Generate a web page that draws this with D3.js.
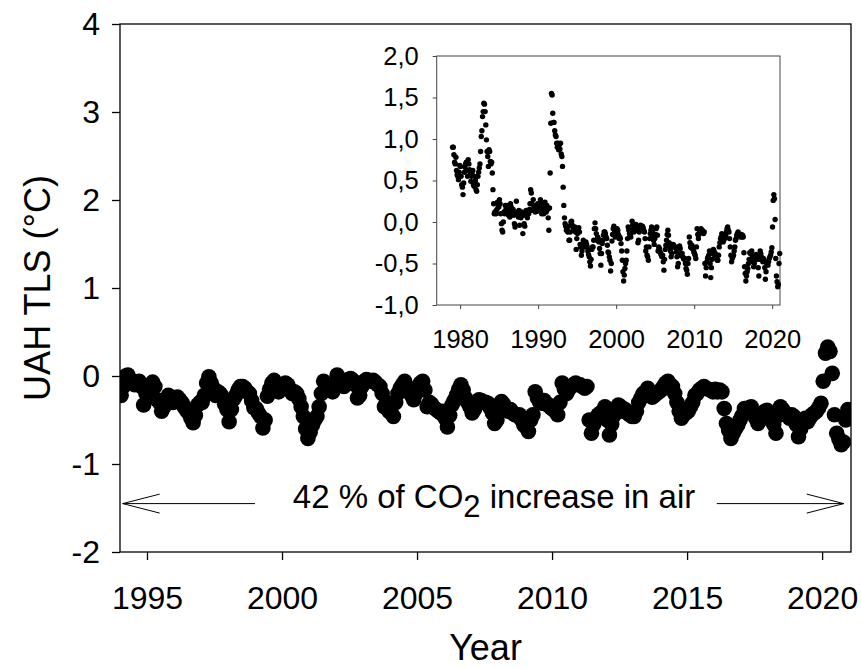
<!DOCTYPE html>
<html>
<head>
<meta charset="utf-8">
<script src="https://cdn.jsdelivr.net/npm/d3@7"></script>
<style>
  body { margin: 0; background: #fff; }
  text { font-family: "Liberation Sans", Arial, sans-serif; fill: #000; }
</style>
</head>
<body>
<div id="chart"></div>
<script>
// Monthly UAH TLS anomalies (°C), one row per year, Jan..Dec
var earlyStart = 1979;
var tlsEarly = [
  0.90, 0.90, 0.81, 0.72, 0.70, 0.78, 0.62, 0.57, 0.55, 0.51, 0.60, 0.68, // 1979
  0.67, 0.55, 0.45, 0.42, 0.33, 0.47, 0.60, 0.66, 0.70, 0.72, 0.62, 0.55, // 1980
  0.75, 0.70, 0.63, 0.60, 0.49, 0.55, 0.58, 0.62, 0.45, 0.43, 0.55, 0.50, // 1981
  0.39, 0.37, 0.45, 0.55, 0.60, 0.65, 0.70, 0.85, 1.03, 1.10, 1.27, 1.33, // 1982
  1.43, 1.42, 1.33, 1.17, 0.99, 0.85, 0.79, 0.67, 0.87, 0.85, 0.73, 0.70, // 1983
  0.72, 0.59, 0.39, 0.22, 0.10, 0.12, 0.12, 0.10, 0.15, 0.24, 0.20, 0.18, // 1984
  0.27, 0.22, 0.10, -0.02, -0.10, -0.12, 0.00, 0.12, 0.10, 0.20, 0.15, 0.12, // 1985
  0.20, 0.14, 0.08, 0.12, 0.06, 0.22, 0.18, 0.12, 0.10, 0.15, 0.08, -0.02, // 1986
  -0.06, 0.10, 0.25, 0.10, 0.12, 0.06, 0.14, -0.04, 0.08, 0.05, 0.12, 0.10, // 1987
  -0.14, 0.08, -0.02, -0.05, 0.10, 0.14, 0.08, 0.05, 0.12, 0.10, 0.15, 0.22, // 1988
  0.39, 0.35, 0.22, 0.14, 0.27, 0.18, 0.15, 0.12, 0.20, 0.18, 0.13, 0.22, // 1989
  0.22, 0.15, 0.20, 0.27, 0.17, 0.10, 0.22, 0.15, 0.10, 0.18, 0.24, 0.15, // 1990
  0.12, 0.20, 0.15, 0.05, -0.10, 0.17, 0.59, 1.19, 1.55, 1.53, 1.31, 1.20, // 1991
  1.20, 1.10, 1.05, 1.03, 0.95, 0.90, 0.95, 0.87, 0.93, 0.88, 0.95, 0.82, // 1992
  0.79, 0.67, 0.42, 0.20, 0.05, -0.02, -0.05, -0.10, -0.08, -0.12, -0.05, -0.22 // 1993
];

var recentStart = 1994;
var tlsRecent = [
  -0.22, -0.12, 0.00, 0.01, -0.04, -0.06, -0.10, -0.08, -0.06, -0.12, -0.33, -0.20, // 1994
  -0.14, -0.10, -0.07, -0.12, -0.27, -0.30, -0.40, -0.35, -0.28, -0.22, -0.25, -0.30, // 1995
  -0.28, -0.24, -0.27, -0.30, -0.35, -0.39, -0.42, -0.48, -0.53, -0.45, -0.33, -0.30, // 1996
  -0.30, -0.22, -0.08, -0.01, -0.08, -0.14, -0.22, -0.18, -0.20, -0.24, -0.32, -0.38, // 1997
  -0.52, -0.38, -0.26, -0.22, -0.16, -0.12, -0.12, -0.14, -0.18, -0.20, -0.28, -0.36, // 1998
  -0.37, -0.42, -0.46, -0.59, -0.50, -0.23, -0.15, -0.08, -0.05, -0.10, -0.18, -0.14, // 1999
  -0.12, -0.08, -0.10, -0.15, -0.20, -0.18, -0.20, -0.26, -0.35, -0.46, -0.60, -0.71, // 2000
  -0.64, -0.56, -0.50, -0.46, -0.35, -0.20, -0.06, -0.10, -0.14, -0.16, -0.18, -0.12, // 2001
  0.01, -0.04, -0.08, -0.12, -0.06, -0.04, -0.03, -0.05, -0.10, -0.25, -0.22, -0.12, // 2002
  -0.06, -0.04, -0.05, -0.06, -0.05, -0.07, -0.10, -0.12, -0.20, -0.35, -0.30, -0.40, // 2003
  -0.42, -0.46, -0.30, -0.20, -0.14, -0.10, -0.06, -0.12, -0.18, -0.22, -0.27, -0.20, // 2004
  -0.15, -0.08, -0.06, -0.16, -0.35, -0.30, -0.32, -0.36, -0.38, -0.40, -0.42, -0.40, // 2005
  -0.48, -0.58, -0.45, -0.33, -0.28, -0.22, -0.15, -0.10, -0.16, -0.25, -0.30, -0.35, // 2006
  -0.42, -0.38, -0.30, -0.27, -0.28, -0.30, -0.30, -0.31, -0.36, -0.42, -0.54, -0.50, // 2007
  -0.40, -0.29, -0.32, -0.38, -0.40, -0.38, -0.42, -0.44, -0.45, -0.44, -0.50, -0.56, // 2008
  -0.58, -0.63, -0.50, -0.44, -0.18, -0.25, -0.30, -0.31, -0.28, -0.32, -0.33, -0.36, // 2009
  -0.38, -0.40, -0.44, -0.30, -0.08, -0.15, -0.20, -0.15, -0.12, -0.10, -0.08, -0.10, // 2010
  -0.10, -0.12, -0.14, -0.12, -0.50, -0.65, -0.55, -0.48, -0.44, -0.42, -0.40, -0.35, // 2011
  -0.50, -0.67, -0.55, -0.45, -0.38, -0.33, -0.35, -0.40, -0.38, -0.42, -0.44, -0.46, // 2012
  -0.46, -0.40, -0.30, -0.25, -0.20, -0.18, -0.14, -0.20, -0.24, -0.22, -0.20, -0.18, // 2013
  -0.16, -0.12, -0.08, -0.06, -0.10, -0.12, -0.20, -0.30, -0.40, -0.48, -0.44, -0.42, // 2014
  -0.40, -0.35, -0.30, -0.22, -0.20, -0.16, -0.14, -0.12, -0.14, -0.15, -0.16, -0.18, // 2015
  -0.15, -0.18, -0.16, -0.18, -0.37, -0.54, -0.62, -0.71, -0.65, -0.60, -0.56, -0.50, // 2016
  -0.45, -0.37, -0.38, -0.36, -0.35, -0.42, -0.48, -0.54, -0.50, -0.45, -0.40, -0.39, // 2017
  -0.42, -0.45, -0.55, -0.65, -0.45, -0.35, -0.38, -0.42, -0.45, -0.48, -0.44, -0.46, // 2018
  -0.55, -0.69, -0.60, -0.50, -0.48, -0.52, -0.48, -0.44, -0.42, -0.40, -0.36, -0.31, // 2019
  -0.06, 0.26, 0.33, 0.28, 0.03, -0.44, -0.65, -0.72, -0.78, -0.75, -0.50, -0.38  // 2020
];

var mainXTicks = [1995, 2000, 2005, 2010, 2015, 2020];
var mainYTicks = [-2, -1, 0, 1, 2, 3, 4];
var insetXTicks = [1980, 1990, 2000, 2010, 2020];
var insetYTicks = [-1.0, -0.5, 0.0, 0.5, 1.0, 1.5, 2.0];
var noteText = "42 % of CO";

// turn a monthly list into {t, v} points
function toPoints(list, start) {
  return list.map(function(v, i) {
    return { t: start + Math.floor(i / 12) + (i % 12 + 0.5) / 12, v: v };
  });
}
var allPoints = toPoints(tlsEarly, earlyStart).concat(toPoints(tlsRecent, recentStart));
var recentPoints = toPoints(tlsRecent, recentStart);

var svgWidth = 861;
var svgHeight = 668;
var margin = { top: 24, right: 10, bottom: 116, left: 120 };
var width = 731;
var height = 528;

var locale = d3.formatLocale({ decimal: ",", thousands: ".", grouping: [3], currency: ["", ""], minus: "-" });

var svg = d3.select("#chart")
  .append("svg")
  .attr("width", svgWidth)
  .attr("height", svgHeight);

var chartGroup = svg.append("g")
  .attr("transform", `translate(${margin.left}, ${margin.top})`);

// Step 1: main scales
var xScale = d3.scaleLinear().domain([1994, 2021.07]).range([0, width]);
var yScale = d3.scaleLinear().domain([-2, 4]).range([height, 0]);

// Step 2: main axes
var bottomAxis = d3.axisBottom(xScale).tickValues(mainXTicks)
  .tickFormat(d3.format("d")).tickSizeInner(8).tickSizeOuter(0).tickPadding(26);
var leftAxis = d3.axisLeft(yScale).tickValues(mainYTicks)
  .tickFormat(locale.format("d")).tickSizeInner(8).tickSizeOuter(0).tickPadding(12);

var gx = chartGroup.append("g")
  .attr("transform", `translate(0, ${height})`)
  .call(bottomAxis);
var gy = chartGroup.append("g").call(leftAxis);

[gx, gy].forEach(function(g) {
  g.select(".domain").remove();
  g.selectAll("line").attr("stroke", "#000").attr("stroke-width", 1.3);
  g.selectAll("text").style("font-size", "32px").attr("fill", "#000");
});

chartGroup.append("rect")
  .attr("width", width)
  .attr("height", height)
  .attr("fill", "none")
  .attr("stroke", "#000")
  .attr("stroke-width", 1.3);

// Step 3: main points (clipped to the frame)
chartGroup.append("clipPath").attr("id", "mainClip")
  .append("rect").attr("width", width).attr("height", height);

chartGroup.append("g")
  .attr("clip-path", "url(#mainClip)")
  .selectAll("circle")
  .data(recentPoints)
  .enter()
  .append("circle")
  .attr("cx", d => xScale(d.t))
  .attr("cy", d => yScale(d.v))
  .attr("r", 7.8)
  .attr("fill", "#000");

// Step 4: axis titles
chartGroup.append("text")
  .attr("x", width / 2)
  .attr("y", height + 108)
  .attr("text-anchor", "middle")
  .style("font-size", "36px")
  .text("Year");

svg.append("text")
  .attr("transform", `translate(50, ${margin.top + height / 2}) rotate(-90)`)
  .attr("text-anchor", "middle")
  .style("font-size", "36px")
  .text("UAH TLS (°C)");

// Step 5: arrow annotation
var arrowY = yScale(-1.45);
var arrowLeft = xScale(1994.1), arrowRight = xScale(2020.8);
var note = chartGroup.append("g").attr("stroke", "#000").attr("stroke-width", 1).attr("fill", "none");
note.append("line").attr("x1", arrowLeft).attr("x2", xScale(1999.0)).attr("y1", arrowY).attr("y2", arrowY);
note.append("polyline").attr("points", `${arrowLeft + 37},${arrowY - 9.5} ${arrowLeft},${arrowY} ${arrowLeft + 37},${arrowY + 9.5}`);
note.append("line").attr("x1", xScale(2016.1)).attr("x2", arrowRight).attr("y1", arrowY).attr("y2", arrowY);
note.append("polyline").attr("points", `${arrowRight - 37},${arrowY - 9.5} ${arrowRight},${arrowY} ${arrowRight - 37},${arrowY + 9.5}`);

var label = chartGroup.append("text")
  .attr("x", xScale(2007.85))
  .attr("y", arrowY + 4)
  .attr("text-anchor", "middle")
  .style("font-size", "33px");
label.append("tspan").text(noteText);
label.append("tspan").attr("dy", 9).style("font-size", "31px").text("2");
label.append("tspan").attr("dy", -9).text(" increase in air");

// Step 6: inset
var inset = { left: 436.7, top: 56, right: 780, bottom: 305 };
var ix = d3.scaleLinear().domain([1977, 2021]).range([inset.left, inset.right]);
var iy = d3.scaleLinear().domain([-1, 2]).range([inset.bottom, inset.top]);

var insetGroup = svg.append("g");

var ixAxis = d3.axisBottom(ix).tickValues(insetXTicks)
  .tickFormat(d3.format("d")).tickSizeInner(4).tickSizeOuter(0).tickPadding(21);
var iyAxis = d3.axisLeft(iy).tickValues(insetYTicks)
  .tickFormat(locale.format(".1f")).tickSizeInner(4).tickSizeOuter(0).tickPadding(14);

var gix = insetGroup.append("g")
  .attr("transform", `translate(0, ${inset.bottom})`)
  .call(ixAxis);
var giy = insetGroup.append("g")
  .attr("transform", `translate(${inset.left}, 0)`)
  .call(iyAxis);

[gix, giy].forEach(function(g) {
  g.select(".domain").remove();
  g.selectAll("line").attr("stroke", "#444").attr("stroke-width", 1);
  g.selectAll("text").style("font-size", "25.5px").attr("fill", "#000");
});

insetGroup.append("rect")
  .attr("x", inset.left)
  .attr("y", inset.top)
  .attr("width", inset.right - inset.left)
  .attr("height", inset.bottom - inset.top)
  .attr("fill", "none")
  .attr("stroke", "#444")
  .attr("stroke-width", 1);

insetGroup.append("g")
  .selectAll("circle")
  .data(allPoints)
  .enter()
  .append("circle")
  .attr("cx", d => ix(d.t))
  .attr("cy", d => iy(d.v))
  .attr("r", 2.7)
  .attr("fill", "#000");
</script>
</body>
</html>
